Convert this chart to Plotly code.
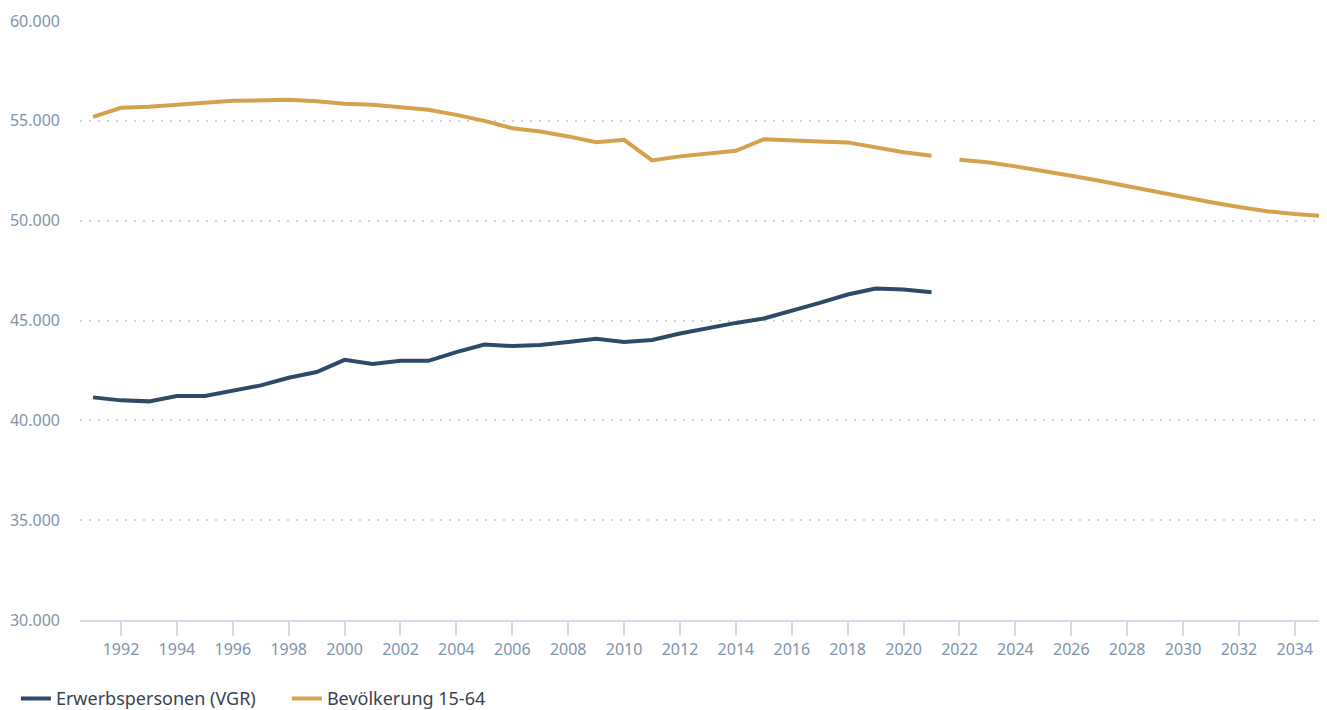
import plotly.graph_objects as go

years_hist = list(range(1991, 2022))
years_proj = list(range(2022, 2036))

erwerbspersonen = [41150, 41000, 40950, 41220, 41220, 41470, 41750, 42130, 42420, 43030,
                   42820, 42980, 42980, 43420, 43800, 43720, 43770, 43920, 44080, 43920,
                   44020, 44350, 44630, 44880, 45100, 45470, 45880, 46300, 46600, 46550,
                   46420]

bevoelkerung_hist = [55200, 55650, 55700, 55780, 55900, 56000, 56050, 56050, 55980, 55850,
                     55800, 55700, 55550, 55300, 55000, 54630, 54470, 54220, 53930, 54050,
                     53020, 53220, 53350, 53500, 54080, 54050, 53970, 53920, 53680, 53430,
                     53250]

bevoelkerung_proj = [53050, 52920, 52720, 52500, 52250, 52000, 51720, 51430, 51170, 50920,
                     50680, 50470, 50330, 50230]

x_ticks = list(range(1992, 2036, 2))
y_ticks = [30000, 35000, 40000, 45000, 50000, 55000, 60000]

navy = "#2d4a69"
gold = "#d4a24c"
tick_color = "#8194aa"
grid_color = "#c9d4e0"
axis_color = "#d3dce6"

fig = go.Figure()
fig.add_trace(go.Scatter(x=years_hist, y=erwerbspersonen, mode="lines",
                         name="Erwerbspersonen (VGR)",
                         line=dict(color=navy, width=4)))
fig.add_trace(go.Scatter(x=years_hist, y=bevoelkerung_hist, mode="lines",
                         name="Bevölkerung 15-64", legendgroup="bev",
                         line=dict(color=gold, width=4)))
fig.add_trace(go.Scatter(x=years_proj, y=bevoelkerung_proj, mode="lines",
                         name="Bevölkerung 15-64", legendgroup="bev", showlegend=False,
                         line=dict(color=gold, width=4)))

fig.update_layout(
    width=1319, height=702,
    margin=dict(l=72, r=0, t=13, b=90),
    paper_bgcolor="white", plot_bgcolor="white",
    separators=",.",
    font=dict(family="Noto Sans", size=16, color=tick_color),
    showlegend=True,
    legend=dict(orientation="h", xref="container", yref="container",
                x=0.006, y=0.016, xanchor="left", yanchor="middle",
                font=dict(size=18, color="#3a4350"),
                itemwidth=30, tracegroupgap=0, entrywidthmode="pixels", entrywidth=226),
    xaxis=dict(range=[1990.533, 2035.15], tickmode="array", tickvals=x_ticks,
               ticktext=[str(t) for t in x_ticks],
               showgrid=False, zeroline=False,
               showline=True, linecolor=axis_color, linewidth=2,
               ticks="outside", ticklen=14, tickcolor=axis_color, tickwidth=1.5,
               tickfont=dict(size=16, color=tick_color)),
    yaxis=dict(range=[30000, 60000], tickmode="array", tickvals=y_ticks,
               tickformat=",.0f", showgrid=True, gridcolor=grid_color,
               griddash="2px,7px", gridwidth=2, zeroline=False, showline=False,
               ticklabelstandoff=19,
               tickfont=dict(size=16, color=tick_color)),
)

fig.write_html("out.html")
